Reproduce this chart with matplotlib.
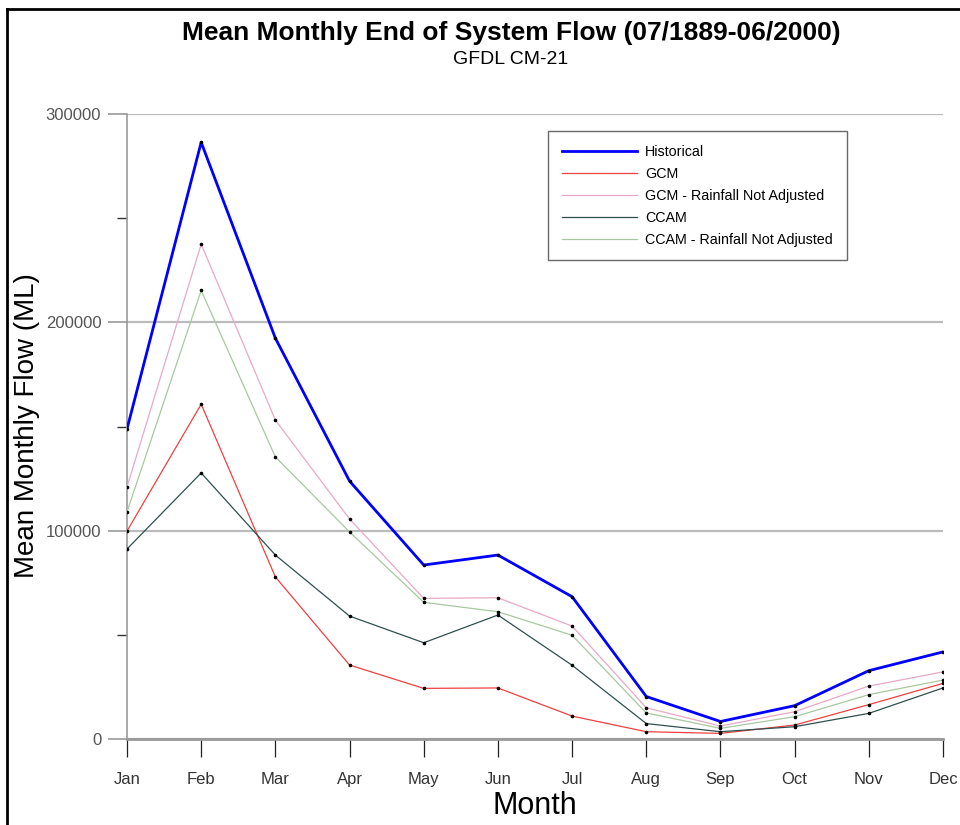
import matplotlib
matplotlib.use('Agg')
import matplotlib.pyplot as plt
from matplotlib.lines import Line2D

font = 'Liberation Sans'

months = ['Jan', 'Feb', 'Mar', 'Apr', 'May', 'Jun', 'Jul', 'Aug', 'Sep', 'Oct', 'Nov', 'Dec']
historical = [148800, 286400, 192400, 123800, 83500, 88300, 68300, 20400, 8400, 16000, 32800, 41800]
gcm = [99800, 160700, 77800, 35500, 24300, 24500, 11000, 3500, 2700, 6700, 16500, 26700]
gcm_not_adj = [121000, 237500, 153100, 105600, 67500, 67800, 54200, 15000, 6200, 13100, 25400, 32200]
ccam = [91200, 127700, 88300, 59000, 46200, 59500, 35400, 7400, 3500, 5900, 12300, 24500]
ccam_not_adj = [109000, 215300, 135400, 99400, 65600, 61100, 49800, 12500, 5100, 10700, 21300, 28300]
ytick_vals = [0, 100000, 200000, 300000]
yminor_vals = [50000, 150000, 250000]

series = [
    ('Historical', historical, '#0000ff', 2.0),
    ('GCM', gcm, '#f04040', 0.9),
    ('GCM - Rainfall Not Adjusted', gcm_not_adj, '#e8a8c8', 0.9),
    ('CCAM', ccam, '#2f4f4f', 0.9),
    ('CCAM - Rainfall Not Adjusted', ccam_not_adj, '#a8c8a0', 0.9),
]

fig = plt.figure(figsize=(9.6, 8.25), dpi=100)
ax = fig.add_axes([127/960, 1-739/825, 816/960, 625/825])

x = list(range(len(months)))
handles = []
for name, vals, col, lw in series:
    ax.plot(x, vals, color=col, lw=lw, zorder=3)
    ax.plot(x, vals, ls='none', marker='o', ms=1.6, mfc='black', mec='black', zorder=4)
    handles.append(Line2D([0], [0], color=col, lw=lw))

ax.set_xlim(0, 11)
ax.set_ylim(0, 300000)
ax.set_xticks(x)
ax.set_xticklabels(months, fontfamily=font, fontsize=12, color='#333333')
ax.set_yticks(ytick_vals)
ax.set_yticklabels([str(v) for v in ytick_vals], fontfamily=font, fontsize=12, color='#555555')
ax.set_yticks(yminor_vals, minor=True)

ax.grid(axis='y', which='major', color='#bbbbbb', lw=1.6, zorder=1)
ax.tick_params(axis='y', which='major', length=13.5, width=1.2, color='#999999', pad=5)
ax.tick_params(axis='y', which='minor', length=7, width=1, color='#333333')
ax.tick_params(axis='x', which='major', length=13, width=0.9, color='#222222', pad=11)

for s in ['top', 'right']:
    ax.spines[s].set_visible(False)
ax.spines['left'].set_color('#999999')
ax.spines['left'].set_linewidth(1.2)
ax.spines['bottom'].set_color('#999999')
ax.spines['bottom'].set_linewidth(2.0)
ax.spines['bottom'].set_zorder(2)

leg = ax.legend(handles, [s[0] for s in series], loc='upper left',
                bbox_to_anchor=((548-127)/816, (739-131)/625), frameon=True, fancybox=False,
                prop={'family': font, 'size': 10.3}, handlelength=5.3, handletextpad=0.55,
                labelspacing=0.56, borderpad=0.95, borderaxespad=0)
leg.get_frame().set_edgecolor('#444444')
leg.get_frame().set_linewidth(1.0)

fig.text(511/960, 1-33/825, 'Mean Monthly End of System Flow (07/1889-06/2000)', ha='center', va='center',
         fontfamily=font, fontweight='bold', fontsize=19)
fig.text(511/960, 1-60/825, 'GFDL CM-21', ha='center', va='center', fontfamily=font, fontsize=14)
fig.text(535/960, 1-806/825, 'Month', ha='center', va='center', fontfamily=font, fontsize=22)
fig.text(27/960, 1-426/825, 'Mean Monthly Flow (ML)', ha='center', va='center', rotation=90,
         fontfamily=font, fontsize=20)

# partial frame along the left and top edge
fig.add_artist(Line2D([7/960, 7/960], [1-9/825, 0], transform=fig.transFigure, color='black', lw=2))
fig.add_artist(Line2D([7/960, 1], [1-9/825, 1-9/825], transform=fig.transFigure, color='black', lw=2))

fig.savefig('out.png', dpi=100)
